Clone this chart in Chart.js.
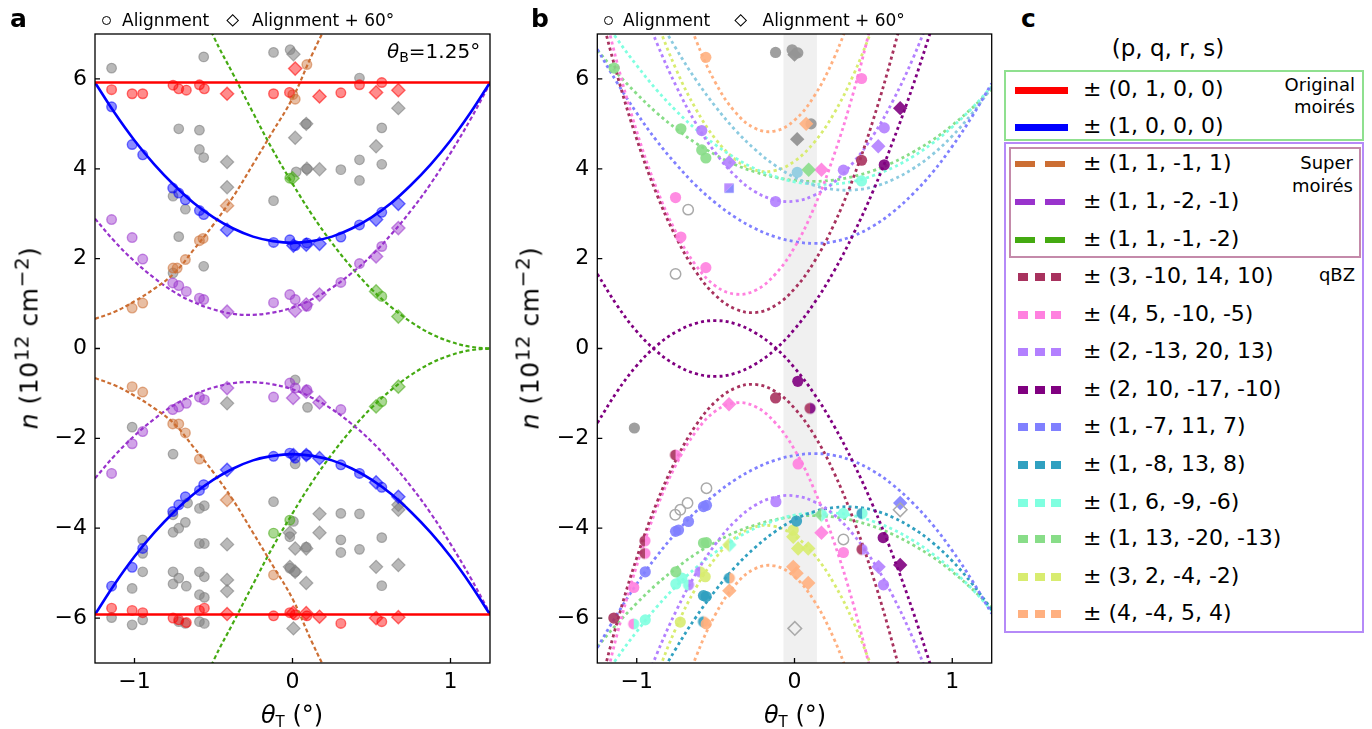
<!DOCTYPE html>
<html>
<head>
<meta charset="utf-8">
<script src="https://cdn.jsdelivr.net/npm/chart.js@4.4.1/dist/chart.umd.min.js"></script>
<style>
  body { margin: 0; background: #fff; }
  #fig { position: relative; width: 1372px; height: 729px; overflow: hidden; background: #fff;
         font-family: "DejaVu Sans", sans-serif; color: #000; }
  #fig canvas { position: absolute; top: 0; }
  .abs { position: absolute; white-space: nowrap; }
  .tag { font-weight: bold; font-size: 25px; line-height: 25px; }
  .hdr { font-size: 17px; line-height: 17px; }
  .ring { width: 9.4px; height: 9.4px; border: 1.3px solid #000; border-radius: 50%; box-sizing: border-box; }
  .dia { width: 9.4px; height: 9.4px; border: 1.3px solid #000; box-sizing: border-box; transform: rotate(45deg); }
  .ax { font-size: 24px; line-height: 24px; }
  .ax sub { font-size: 15px; vertical-align: -4px; line-height: 0; }
  .yt { font-size: 25px; line-height: 25px; letter-spacing: 0.5px; }
  .yt sup { font-size: 20px; vertical-align: 9px; line-height: 0; }
  .box { position: absolute; box-sizing: border-box; }
  .row { font-size: 22px; line-height: 22px; }
  .note { font-size: 18px; line-height: 18px; text-align: right; }
  .swatch { position: absolute; }
</style>
</head>
<body>
<div id="fig">
  <canvas id="ca" width="500" height="729" style="left:0"></canvas>
  <canvas id="cb" width="500" height="729" style="left:500px"></canvas>

  <div class="abs tag" style="left:10px;top:6px">a</div>
  <div class="abs tag" style="left:531px;top:6px">b</div>
  <div class="abs tag" style="left:1021px;top:6px">c</div>

  <div class="abs ring" style="left:102px;top:16px"></div>
  <div class="abs hdr" style="left:122px;top:12px">Alignment</div>
  <div class="abs dia" style="left:227.6px;top:16px"></div>
  <div class="abs hdr" style="left:252px;top:12px">Alignment + 60°</div>

  <div class="abs ring" style="left:603.6px;top:16px"></div>
  <div class="abs hdr" style="left:623px;top:12px">Alignment</div>
  <div class="abs dia" style="left:736px;top:16px"></div>
  <div class="abs hdr" style="left:762.5px;top:12px">Alignment + 60°</div>

  <div class="abs ax" style="left:387px;top:41px;font-size:20px;line-height:20px"><i>θ</i><sub style="font-size:14px">B</sub>=1.25°</div>

  <div class="abs yt" style="left:29px;top:338px;transform:translate(-50%,-50%) rotate(-90deg)"><i>n</i> (10<sup>12</sup> cm<sup>−2</sup>)</div>
  <div class="abs yt" style="left:530px;top:338px;transform:translate(-50%,-50%) rotate(-90deg)"><i>n</i> (10<sup>12</sup> cm<sup>−2</sup>)</div>
  <div class="abs ax" style="left:292px;top:703px;transform:translateX(-50%)"><i>θ</i><sub>T</sub> (°)</div>
  <div class="abs ax" style="left:795px;top:703px;transform:translateX(-50%)"><i>θ</i><sub>T</sub> (°)</div>

  <div id="legend"></div>
</div>

<script>
// sample grid along the twist angle, shared by all fitted curves
const gridX = [-1.25, -1.125, -1, -0.875, -0.75, -0.625, -0.5, -0.375, -0.25, -0.125, 0,
               0.125, 0.25, 0.375, 0.5, 0.625, 0.75, 0.875, 1, 1.125, 1.25];
const xTicks = [-1, 0, 1];
const yTicks = [-6, -4, -2, 0, 2, 4, 6];
const bandLo = -0.07, bandHi = 0.142;

// ---- panel a: curves (upper branch, lower branch is its mirror) ----
const aRedX = [-1.25, 1.25];
const aRed = [5.92, 5.92];
const aBlue = [5.92, 5.24, 4.63, 4.10, 3.64, 3.24, 2.92, 2.67, 2.49, 2.39, 2.35, 2.39, 2.49, 2.67, 2.92, 3.24, 3.64, 4.10, 4.63, 5.24, 5.92];
const aOrange = [0.66, 0.82, 1.05, 1.33, 1.67, 2.20, 2.76, 3.38, 4.10, 4.83, 5.57, 6.55, 7.45, null, null, null, null, null, null, null, null];
const aPurple = [2.89, 2.38, 1.94, 1.57, 1.26, 1.03, 0.87, 0.77, 0.75, 0.80, 0.91, 1.10, 1.35, 1.68, 2.07, 2.54, 3.07, 3.67, 4.35, 5.09, 5.90];
const aGreen = [null, null, null, null, null, 8.0, 6.95, 6.1, 5.25, 4.42, 3.67, 2.97, 2.35, 1.80, 1.32, 0.92, 0.59, 0.33, 0.15, 0.04, 0];

// ---- panel a: measured points [theta_T, n] ----
const aRedCircle = [[-1.145, 5.76], [-1.015, 5.67], [-0.948, 5.67], [-0.756, 5.86], [-0.72, 5.78], [-0.672, 5.75], [-0.589, 5.87], [-0.558, 5.78], [-0.12, 5.67], [-0.019, 5.70], [0.306, 5.69], [0.424, 5.87], [0.565, 5.92],
  [-1.145, -5.78], [-1.015, -5.83], [-0.948, -5.88], [-0.756, -6.0], [-0.72, -6.04], [-0.672, -6.10], [-0.589, -5.83], [-0.558, -5.78], [-0.12, -5.95], [-0.017, -5.88], [0.017, -5.93], [0.091, -5.95], [0.306, -6.12], [0.565, -6.08]];
const aRedDiamond = [[0.017, 6.23], [-0.414, 5.67], [0.171, 5.61], [0.529, 5.70], [0.670, 5.75],
  [-0.414, -5.91], [0.004, -5.88], [0.087, -5.89], [0.171, -5.97], [0.529, -6.0], [0.670, -5.98]];
const aBlueCircle = [[-1.145, 5.38], [-1.015, 4.54], [-0.948, 4.31], [-0.758, 3.57], [-0.72, 3.46], [-0.678, 3.31], [-0.589, 3.07], [-0.562, 2.98], [-0.12, 2.36], [-0.017, 2.42], [0.017, 2.29], [0.091, 2.35], [0.306, 2.48], [0.424, 2.75], [0.565, 3.03],
  [-1.145, -5.29], [-1.015, -4.87], [-0.948, -4.45], [-0.758, -3.63], [-0.72, -3.48], [-0.678, -3.30], [-0.589, -3.16], [-0.562, -3.03], [-0.12, -2.40], [-0.017, -2.33], [0.017, -2.44], [0.091, -2.37], [0.306, -2.59], [0.424, -2.78], [0.565, -3.09]];
const aBlueDiamond = [[-0.414, 2.64], [0.006, 2.29], [0.087, 2.31], [0.171, 2.33], [0.529, 2.87], [0.670, 3.22],
  [-0.414, -2.70], [0.006, -2.37], [0.087, -2.37], [0.171, -2.44], [0.529, -2.98], [0.670, -3.30]];
const aOrangeCircle = [[0.091, 6.32], [0.017, 5.55], [0.002, 5.65], [-0.566, 2.45], [-0.589, 2.40], [-0.678, 1.98], [-0.73, 1.79], [-0.756, 1.79], [-1.015, 0.90], [-0.948, 1.01],
  [-1.015, -0.85], [-0.948, -0.97], [-0.758, -1.68], [-0.72, -1.68], [-0.678, -1.88], [-0.589, -2.46], [-0.12, -5.04]];
const aOrangeDiamond = [[-0.414, 3.18], [-0.414, -3.37]];
const aPurpleCircle = [[-1.145, 2.87], [-1.015, 2.47], [-0.948, 1.99], [-0.758, 1.46], [-0.72, 1.40], [-0.672, 1.27], [-0.589, 1.12], [-0.562, 1.09], [-0.12, 1.02], [-0.017, 1.20], [0.017, 1.09], [0.091, 0.94], [0.306, 1.47], [0.424, 1.89], [0.565, 2.27],
  [-1.145, -2.78], [-1.015, -2.12], [-0.948, -1.85], [-0.758, -1.36], [-0.72, -1.30], [-0.672, -1.22], [-0.589, -1.08], [-0.558, -1.14], [-0.12, -1.08], [-0.017, -0.77], [0.017, -0.88], [0.091, -0.92], [0.306, -1.36]];
const aPurpleDiamond = [[-0.414, 0.82], [0.017, 0.84], [0.087, 0.98], [0.171, 1.20], [0.529, 2.05], [0.670, 2.68],
  [-0.414, -0.88], [0.004, -1.10], [0.087, -0.96], [0.171, -1.20]];
const aGreenCircle = [[-0.017, 3.79], [0.565, 1.16], [0.565, -1.18], [-0.12, -4.11], [-0.017, -3.82]];
const aGreenDiamond = [[0.0, 3.79], [0.529, 1.27], [0.670, 0.71], [0.529, -1.29], [0.670, -0.85]];
const aGrayCircle = [[-1.145, 6.24], [-0.562, 6.49], [-0.12, 6.59], [-0.015, 6.65], [0.424, 6.02], [-0.72, 4.89], [-0.589, 4.86], [-0.589, 4.43], [-0.562, 4.25], [0.087, 5.0], [0.565, 4.91], [0.424, 4.20], [0.565, 4.10], [0.306, 3.98], [0.424, 3.74], [0.091, 4.0], [0.023, 3.93], [-0.756, 3.39], [-0.678, 3.10], [-0.12, 3.29], [-0.72, 2.49], [-0.562, 1.83], [-0.756, 1.68],
  [0.017, -0.70], [0.095, -1.31], [-1.015, -1.75], [-0.756, -2.35], [0.017, -2.57], [-0.12, -3.41], [-0.756, -3.70], [-0.664, -3.44], [-0.589, -3.56], [-0.558, -3.50], [-0.678, -3.87], [-0.72, -4.00], [-0.756, -4.09], [-0.948, -4.26], [-0.948, -4.56], [-0.589, -4.34], [-0.558, -4.34], [0.006, -3.85], [-0.017, -4.19], [0.306, -3.67], [0.424, -3.68], [0.306, -4.26], [0.306, -4.54], [0.424, -4.47], [0.565, -4.21], [0.565, -5.28], [-0.948, -4.97], [-0.756, -4.97], [-0.72, -5.11], [-0.756, -5.24], [-0.672, -5.29], [-0.589, -4.97], [-0.558, -5.08], [-1.015, -5.34], [-0.589, -5.48], [-0.558, -5.54], [0.087, -4.42], [-0.017, -4.89], [0.017, -4.97], [-1.145, -5.99], [-1.015, -6.15], [-0.948, -6.04], [-0.72, -6.08], [-0.678, -6.12], [-0.589, -6.08], [-0.558, -6.12]];
const aGrayDiamond = [[0.006, 6.55], [0.087, 5.0], [0.017, 4.69], [0.670, 5.35], [0.529, 4.50], [-0.414, 4.15], [-0.414, 3.59], [0.091, 4.0], [0.171, 3.99],
  [-0.414, -1.22], [0.171, -3.68], [0.171, -4.10], [-0.414, -4.36], [0.017, -4.45], [0.087, -4.45], [-0.017, -4.86], [0.017, -4.97], [0.087, -5.22], [-0.414, -5.15], [-0.414, -5.40], [0.529, -4.86], [0.670, -4.82], [0.670, -3.48], [0.670, -3.59], [0.006, -6.23], [-0.017, -4.10]];

// ---- panel b: qBZ curves (upper branch) ----
const bCrimson = [7.76, 6.10, 4.66, 3.45, 2.47, 1.71, 1.18, 0.88, 0.80, 0.95, 1.33, 1.93, 2.76, 3.82, 5.10, 6.61, 8.34, null, null, null, null];
const bPink = [8.17, 6.37, 4.83, 3.57, 2.58, 1.85, 1.39, 1.21, 1.29, 1.64, 2.25, 3.14, 4.30, 5.72, 7.41, null, null, null, null, null, null];
const bLilac = [null, null, 7.96, 6.82, 5.84, 5.01, 4.35, 3.84, 3.49, 3.31, 3.28, 3.41, 3.70, 4.15, 4.75, 5.52, 6.45, 7.53, null, null, null];
const bPlum = [1.66, 0.96, 0.38, -0.06, -0.37, -0.56, -0.62, -0.55, -0.35, -0.03, 0.43, 1.01, 1.72, 2.56, 3.52, 4.62, 5.84, 7.19, null, null, null];
const bPeri = [6.66, 5.92, 5.24, 4.63, 4.10, 3.63, 3.24, 2.92, 2.67, 2.49, 2.38, 2.34, 2.38, 2.51, 2.73, 3.04, 3.44, 3.92, 4.50, 5.16, 5.90];
const bTeal = [null, null, 8.30, 7.44, 6.67, 5.98, 5.38, 4.86, 4.43, 4.08, 3.81, 3.63, 3.54, 3.53, 3.60, 3.76, 4.00, 4.32, 4.73, 5.23, 5.81];
const bAqua = [7.54, 6.89, 6.30, 5.76, 5.29, 4.88, 4.53, 4.24, 4.00, 3.83, 3.71, 3.66, 3.66, 3.72, 3.85, 4.03, 4.27, 4.57, 4.93, 5.35, 5.83];
const bMint = [6.64, 6.13, 5.67, 5.25, 4.89, 4.57, 4.31, 4.09, 3.93, 3.81, 3.74, 3.72, 3.75, 3.83, 3.96, 4.14, 4.37, 4.64, 4.97, 5.35, 5.77];
const bLime = [null, null, 8.65, 7.32, 6.21, 5.33, 4.66, 4.21, 3.97, 3.96, 4.17, 4.59, 5.23, 6.10, 7.18, null, null, null, null, null, null];
const bPeach = [null, null, null, null, 8.12, 6.87, 5.91, 5.26, 4.90, 4.84, 5.08, 5.62, 6.46, 7.59, null, null, null, null, null, null, null];

// ---- panel b: measured points ----
const bGrayDot = [[-0.12, 6.59], [-0.015, 6.65], [0.021, 6.58], [0.105, 5.0], [-1.015, -1.77]];
const bGrayDiamond = [[0.0, 6.54], [0.017, 4.66]];
const bGrayRing = [[-0.674, 3.09], [-0.754, 1.66], [-0.558, -3.11], [-0.678, -3.44], [-0.724, -3.59], [-0.756, -3.70], [0.31, -4.25]];
const bGrayOpenDiamond = [[0.67, -3.59], [0.002, -6.23]];
const bPeachDot = [[-0.562, 6.48], [-0.56, -6.13]];
const bPeachDiamond = [[0.074, 5.0], [-0.008, -4.86], [0.013, -5.0], [0.087, -5.22], [-0.413, -5.39]];
const bMintDot = [[-1.143, 6.24], [-0.72, 4.89], [-0.588, 4.42], [-0.562, 4.24], [-0.577, -4.33], [-0.558, -4.32], [-0.752, -4.97]];
const bMintDiamond = [[0.09, 3.98]];
const bLilacDot = [[-0.588, 4.85], [0.569, 4.91], [0.31, 3.97], [-0.12, 3.27], [-0.118, -3.41], [0.564, -5.26]];
const bLilacDiamond = [[-0.415, 4.14], [0.531, 4.50], [0.533, -4.86]];
const bPinkDot = [[0.425, 6.01], [-0.754, 3.36], [-0.72, 2.48], [-0.562, 1.80], [0.023, -2.57], [0.31, -4.54], [-1.019, -5.32]];
const bPinkDiamond = [[0.171, 3.98], [-0.415, -1.24], [0.171, -4.10]];
const bPlumDot = [[0.569, 4.09], [0.021, -0.73], [0.562, -4.21]];
const bPlumDiamond = [[0.67, 5.35], [0.67, -4.82]];
const bCrimsonDot = [[0.425, 4.19], [-0.12, -1.10], [-1.145, -6.0]];
const bTealDot = [[0.013, -3.84], [-0.577, -5.50], [-0.56, -5.52]];
const bSkyDot = [[0.017, 3.92]];
const bAquaDot = [[0.425, 3.73], [0.31, -3.67], [-0.752, -5.24], [-0.714, -5.11], [-0.946, -6.04]];
const bPeriDot = [[-0.577, -3.52], [-0.558, -3.49], [-0.672, -3.85], [-0.735, -4.04], [-0.754, -4.07], [-0.946, -4.97]];
const bPeriDiamond = [[0.67, -3.44]];
const bLimeDot = [[-0.566, -5.08], [-0.724, -6.09], [-0.008, -4.04]];
const bLimeDiamond = [[-0.008, -4.19], [0.023, -4.45], [0.087, -4.45]];
// points shared by two families
const bCrimsonPlumHalf = [[0.099, -1.33]];
const bCrimsonPinkHalf = [[-0.754, -2.37], [-0.948, -4.28], [-0.948, -4.56]];
const bPinkAquaHalf = [[-1.019, -6.13]];
const bMintAquaHalf = [[0.171, -3.70]];
const bTealAquaHalf = [[0.428, -3.67]];
const bCrimsonLilacHalf = [[0.428, -4.47]];
const bAquaLilacHalf = [[-0.672, -5.26]];
const bLilacLimeHalf = [[-0.598, -4.97]];
const bLimeAquaHalf = [[-0.413, -4.37]];
const bTealPeachHalf = [[-0.413, -5.11], [-0.577, -6.08]];
const bLilacPeriHalf = [[-0.415, 3.57]];

// ---- panel c legend ----
const legendLabels = ['± (0, 1, 0, 0)', '± (1, 0, 0, 0)', '± (1, 1, -1, 1)', '± (1, 1, -2, -1)', '± (1, 1, -1, -2)',
  '± (3, -10, 14, 10)', '± (4, 5, -10, -5)', '± (2, -13, 20, 13)', '± (2, 10, -17, -10)', '± (1, -7, 11, 7)',
  '± (1, -8, 13, 8)', '± (1, 6, -9, -6)', '± (1, 13, -20, -13)', '± (3, 2, -4, -2)', '± (4, -4, 5, 4)'];
const legendKinds = ['solid', 'solid', 'dash', 'dash', 'dash', 'dot', 'dot', 'dot', 'dot', 'dot', 'dot', 'dot', 'dot', 'dot', 'dot'];

const C = {
  red: '#FF0000', blue: '#0000FF', orange: '#CC6E33', purple: '#9933CC', green: '#44AA11',
  crimson: '#A8325E', pink: '#FF80DF', lilac: '#B380FF', plum: '#800080', peri: '#8080FF',
  teal: '#30A0C0', sky: '#8CCBE0', aqua: '#80FFE0', mint: '#88DD88', lime: '#D8EC70', peach: '#FFB080'
};
const legendColors = [C.red, C.blue, C.orange, C.purple, C.green, C.crimson, C.pink, C.lilac, C.plum,
  C.peri, C.teal, C.aqua, C.mint, C.lime, C.peach];

function rgba(hex, a) {
  const n = parseInt(hex.slice(1), 16);
  return `rgba(${n >> 16},${(n >> 8) & 255},${n & 255},${a})`;
}
const fmt = v => (v < 0 ? '\u2212' + Math.abs(v) : String(v));

function branch(xs, vals, sign) {
  return xs.map((x, i) => ({ x, y: vals[i] === null ? null : sign * vals[i] })).filter(p => p.y !== null);
}
function curvePair(xs, vals, color, width, dash, colorLow) {
  return [1, -1].map(s => ({
    data: branch(xs, vals, s), showLine: true, borderColor: s < 0 && colorLow ? colorLow : color,
    borderWidth: width, borderDash: dash, borderCapStyle: 'butt', pointRadius: 0, tension: 0.4, order: 1, clip: 0
  }));
}
function marks(pts, style, fill, edge, r, bw, order) {
  return {
    data: pts.map(([x, y]) => ({ x, y })), showLine: false, pointStyle: style, pointRadius: r,
    pointBackgroundColor: fill, pointBorderColor: edge, pointBorderWidth: bw, order: order, clip: 0
  };
}

// two-colour marker split down the middle
function halfMark(shape, left, right, r) {
  const c = document.createElement('canvas');
  const s = Math.ceil(2 * r + 2);
  c.width = c.height = s;
  const g = c.getContext('2d');
  const m = s / 2;
  [[left, -1], [right, 1]].forEach(([col, side]) => {
    g.fillStyle = rgba(col, 0.9);
    g.beginPath();
    if (shape === 'circle') {
      g.moveTo(m, m - r);
      g.arc(m, m, r, -Math.PI / 2, Math.PI / 2, side < 0);
    } else if (shape === 'diamond') {
      g.moveTo(m, m - r); g.lineTo(m + side * r, m); g.lineTo(m, m + r);
    } else {
      const h = r * 0.85;
      if (side < 0) { g.moveTo(m - h, m - h); g.lineTo(m + h, m - h); g.lineTo(m - h, m + h); }
      else { g.moveTo(m + h, m - h); g.lineTo(m + h, m + h); g.lineTo(m - h, m + h); }
    }
    g.closePath();
    g.fill();
  });
  return c;
}

// box frame and inward tick marks
const frame = {
  id: 'frame',
  beforeDatasetsDraw(chart, args, opts) {
    if (!opts.band) return;
    const { ctx, chartArea: a, scales: { x } } = chart;
    const l = x.getPixelForValue(opts.band[0]), r = x.getPixelForValue(opts.band[1]);
    ctx.save();
    ctx.fillStyle = '#F0F0F0';
    ctx.fillRect(l, a.top, r - l, a.bottom - a.top);
    ctx.restore();
  },
  afterDatasetsDraw(chart) {
    const { ctx, chartArea: a, scales: { x, y } } = chart;
    ctx.save();
    ctx.strokeStyle = '#000';
    ctx.lineWidth = 1.3;
    ctx.strokeRect(a.left, a.top, a.right - a.left, a.bottom - a.top);
    ctx.beginPath();
    x.ticks.forEach(t => { const p = x.getPixelForValue(t.value); ctx.moveTo(p, a.bottom); ctx.lineTo(p, a.bottom - 5); });
    y.ticks.forEach(t => { const p = y.getPixelForValue(t.value); ctx.moveTo(a.left, p); ctx.lineTo(a.left + 5, p); });
    ctx.stroke();
    ctx.restore();
  }
};

function options(axisWidth, padRight, band) {
  const tickFont = { family: 'DejaVu Sans', size: 22 };
  return {
    responsive: false, animation: false, devicePixelRatio: 1, events: [],
    layout: { padding: { top: 34, right: padRight, left: 0, bottom: 0 } },
    plugins: { legend: { display: false }, tooltip: { enabled: false }, frame: { band: band } },
    scales: {
      x: {
        type: 'linear', min: -1.25, max: 1.25,
        afterFit: s => { s.height = 66; },
        afterBuildTicks: s => { s.ticks = xTicks.map(v => ({ value: v })); },
        grid: { display: false, drawTicks: false }, border: { display: false },
        ticks: { color: '#000', font: tickFont, padding: 6, maxRotation: 0, callback: fmt }
      },
      y: {
        type: 'linear', min: -7, max: 7,
        afterFit: s => { s.width = axisWidth; },
        afterBuildTicks: s => { s.ticks = yTicks.map(v => ({ value: v })); },
        grid: { display: false, drawTicks: false }, border: { display: false },
        ticks: { color: '#000', font: tickFont, padding: 8, callback: fmt }
      }
    }
  };
}

// ---------- panel a ----------
const dashA = [4, 2.6];
const aSets = [].concat(
  curvePair(aRedX, aRed, C.red, 2.6, []),
  curvePair(gridX, aBlue, C.blue, 2.6, []),
  curvePair(gridX, aOrange, C.orange, 2.2, dashA),
  curvePair(gridX, aPurple, C.purple, 2.2, dashA),
  curvePair(gridX, aGreen, C.green, 2.2, dashA),
  [
    marks(aGrayCircle, 'circle', 'rgba(128,128,128,0.55)', 'rgba(128,128,128,0.6)', 4.8, 1.2, 3),
    marks(aGrayDiamond, 'rectRot', 'rgba(128,128,128,0.55)', 'rgba(128,128,128,0.6)', 6.6, 1.2, 3),
    marks(aRedCircle, 'circle', rgba(C.red, 0.45), rgba(C.red, 0.55), 4.8, 1.4, 2),
    marks(aRedDiamond, 'rectRot', rgba(C.red, 0.45), rgba(C.red, 0.55), 6.6, 1.4, 2),
    marks(aBlueCircle, 'circle', rgba(C.blue, 0.45), rgba(C.blue, 0.55), 4.8, 1.4, 2),
    marks(aBlueDiamond, 'rectRot', rgba(C.blue, 0.45), rgba(C.blue, 0.55), 6.6, 1.4, 2),
    marks(aOrangeCircle, 'circle', rgba(C.orange, 0.45), rgba(C.orange, 0.55), 4.8, 1.4, 2),
    marks(aOrangeDiamond, 'rectRot', rgba(C.orange, 0.45), rgba(C.orange, 0.55), 6.6, 1.4, 2),
    marks(aPurpleCircle, 'circle', rgba(C.purple, 0.45), rgba(C.purple, 0.55), 4.8, 1.4, 2),
    marks(aPurpleDiamond, 'rectRot', rgba(C.purple, 0.45), rgba(C.purple, 0.55), 6.6, 1.4, 2),
    marks(aGreenCircle, 'circle', rgba(C.green, 0.45), rgba(C.green, 0.55), 4.8, 1.4, 2),
    marks(aGreenDiamond, 'rectRot', rgba(C.green, 0.45), rgba(C.green, 0.55), 6.6, 1.4, 2)
  ]
);
new Chart(document.getElementById('ca'), {
  type: 'scatter', data: { datasets: aSets }, options: options(95, 10, null), plugins: [frame]
});

// ---------- panel b ----------
const dot = [3, 3.2];
const bw = 2.8;
const dotR = 5.6, diaR = 7.2;
const solid = (pts, style, col, r) => marks(pts, style, rgba(col, 0.9), 'rgba(0,0,0,0)', r, 0, 0);
const split = (pts, shape, l, r) => marks(pts, halfMark(shape, l, r, shape === 'diamond' ? diaR : dotR), '#000', '#000', 6, 0, 0);
const bSets = [].concat(
  curvePair(gridX, bCrimson, C.crimson, bw, dot),
  curvePair(gridX, bPink, C.pink, bw, dot),
  curvePair(gridX, bLilac, C.lilac, bw, dot),
  curvePair(gridX, bPlum, C.plum, bw, dot),
  curvePair(gridX, bPeri, C.peri, bw, dot),
  curvePair(gridX, bTeal, C.sky, bw, dot, C.teal),
  curvePair(gridX, bAqua, C.aqua, bw, dot),
  curvePair(gridX, bMint, C.mint, bw, dot),
  curvePair(gridX, bLime, C.lime, bw, dot),
  curvePair(gridX, bPeach, C.peach, bw, dot),
  [
    marks(bGrayRing, 'circle', 'rgba(0,0,0,0)', '#AAAAAA', 5.2, 1.5, 0),
    marks(bGrayOpenDiamond, 'rectRot', 'rgba(0,0,0,0)', '#AAAAAA', 6.8, 1.5, 0),
    solid(bPeachDot, 'circle', C.peach, dotR),
    solid(bPeachDiamond, 'rectRot', C.peach, diaR),
    solid(bGrayDot, 'circle', '#959595', dotR),
    solid(bGrayDiamond, 'rectRot', '#8E8E8E', diaR),
    solid(bMintDot, 'circle', C.mint, dotR),
    solid(bMintDiamond, 'rectRot', C.mint, diaR),
    solid(bLilacDot, 'circle', C.lilac, dotR),
    solid(bLilacDiamond, 'rectRot', C.lilac, diaR),
    solid(bPinkDot, 'circle', C.pink, dotR),
    solid(bPinkDiamond, 'rectRot', C.pink, diaR),
    solid(bPlumDot, 'circle', C.plum, dotR),
    solid(bPlumDiamond, 'rectRot', C.plum, diaR),
    solid(bCrimsonDot, 'circle', C.crimson, dotR),
    solid(bTealDot, 'circle', C.teal, dotR),
    solid(bSkyDot, 'circle', C.sky, dotR),
    solid(bAquaDot, 'circle', C.aqua, dotR),
    solid(bPeriDot, 'circle', C.peri, dotR),
    solid(bPeriDiamond, 'rectRot', C.peri, diaR),
    solid(bLimeDot, 'circle', C.lime, dotR),
    solid(bLimeDiamond, 'rectRot', C.lime, diaR),
    split(bCrimsonPlumHalf, 'circle', C.crimson, C.plum),
    split(bCrimsonPinkHalf, 'circle', C.crimson, C.pink),
    split(bPinkAquaHalf, 'circle', C.pink, C.aqua),
    split(bMintAquaHalf, 'diamond', C.mint, C.aqua),
    split(bTealAquaHalf, 'circle', C.teal, C.aqua),
    split(bCrimsonLilacHalf, 'circle', C.crimson, C.lilac),
    split(bAquaLilacHalf, 'circle', C.aqua, C.lilac),
    split(bLilacLimeHalf, 'circle', C.lilac, C.lime),
    split(bLimeAquaHalf, 'diamond', C.lime, C.aqua),
    split(bTealPeachHalf, 'circle', C.teal, C.peach),
    split(bLilacPeriHalf, 'square', C.lilac, C.peri)
  ]
);
new Chart(document.getElementById('cb'), {
  type: 'scatter', data: { datasets: bSets }, options: options(97.3, 6.7, [bandLo, bandHi]), plugins: [frame]
});

// ---------- panel c: grouped legend ----------
const leg = document.getElementById('legend');
const rowY = [90, 127, 164, 202, 240, 277, 315, 352, 390, 427, 465, 503, 539, 577, 614];
let html = '';
html += '<div class="abs" style="left:1168px;top:37px;font-size:23px;line-height:23px;transform:translateX(-50%)">(p, q, r, s)</div>';
html += '<div class="box" style="left:1004px;top:70px;width:360px;height:71px;border:2.5px solid #8FE08F"></div>';
html += '<div class="box" style="left:1004px;top:142px;width:360px;height:491px;border:2.5px solid #B58AF8"></div>';
html += '<div class="box" style="left:1008.5px;top:147px;width:352.5px;height:111px;border:2.5px solid #C48AAA"></div>';
legendLabels.forEach((label, i) => {
  const col = legendColors[i], kind = legendKinds[i], y = rowY[i];
  let bg, left = 1015, w = 53, h = 7;
  if (kind === 'solid') bg = col;
  else if (kind === 'dash') { bg = `repeating-linear-gradient(to right, ${col} 0 20.5px, transparent 20.5px 30px)`; h = 6; }
  else { bg = `repeating-linear-gradient(to right, ${col} 0 10px, transparent 10px 16.7px)`; left = 1018.3; w = 43.4; h = 7.7; }
  html += `<div class="swatch" style="left:${left}px;top:${y - h / 2}px;width:${w}px;height:${h}px;background:${bg}"></div>`;
  html += `<div class="abs row" style="left:1083px;top:${y - 12}px">${label}</div>`;
});
html += '<div class="abs note" style="right:17px;top:75.5px">Original<br><span style="display:inline-block;margin-top:4.7px">moirés</span></div>';
html += '<div class="abs note" style="right:19px;top:154px">Super<br><span style="display:inline-block;margin-top:5.4px">moirés</span></div>';
html += '<div class="abs note" style="right:17px;top:266px">qBZ</div>';
leg.innerHTML = html;
</script>
</body>
</html>
